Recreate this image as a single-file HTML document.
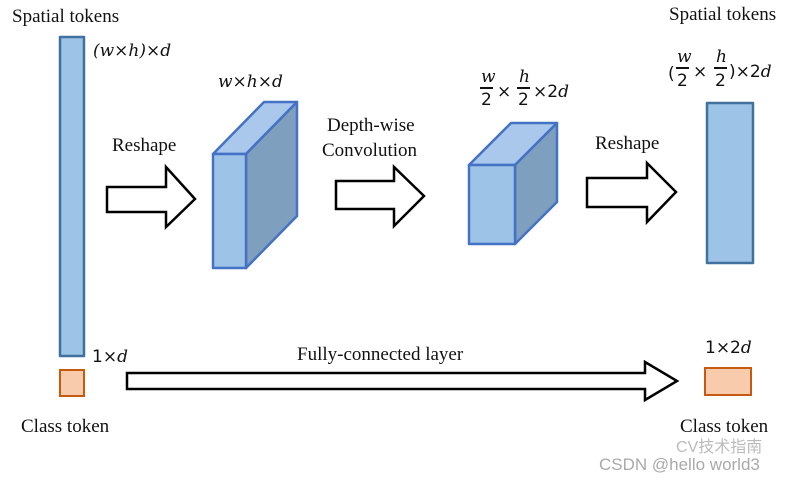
<!DOCTYPE html>
<html><head><meta charset="utf-8"><style>
html,body{margin:0;padding:0;background:#fff;}
svg{display:block;}
.t{font-family:"Liberation Serif",serif;font-size:19px;fill:#111;}
.m{font-family:"DejaVu Serif","Liberation Serif",serif;font-style:italic;font-size:17px;fill:#111;}
.n{font-family:"DejaVu Sans","Liberation Sans",sans-serif;font-size:17px;fill:#111;font-style:normal;}
</style></head><body>
<svg width="795" height="480" viewBox="0 0 795 480" xmlns="http://www.w3.org/2000/svg">
<g stroke="#4472c4" stroke-width="2.5" stroke-linejoin="round">
<rect x="60" y="37" width="24" height="319" fill="#9dc3e6" stroke="#41719c"/>
<rect x="707" y="103" width="46" height="160" fill="#9dc3e6" stroke="#41719c"/>
<polygon points="213,154 264,102 297,102 246,154" fill="#a9c8ec"/>
<polygon points="246,154 297,102 297,216 246,268" fill="#7f9fbf"/>
<rect x="213" y="154" width="33" height="114" fill="#9dc3e6"/>
<polygon points="469,165 511,123 557,123 515,165" fill="#a9c8ec"/>
<polygon points="515,165 557,123 557,202 515,244" fill="#7f9fbf"/>
<rect x="469" y="165" width="46" height="79" fill="#9dc3e6"/>
</g>
<rect x="60" y="370" width="24" height="26" fill="#f8cbad" stroke="#c55a11" stroke-width="2"/>
<rect x="705" y="368" width="46" height="27" fill="#f8cbad" stroke="#c55a11" stroke-width="2"/>
<g fill="#fff" stroke="#000" stroke-width="2.5" stroke-linejoin="miter">
<polygon points="107,187 166,187 166,167 195,199 166,227 166,212 107,212"/>
<polygon points="336,181 394,181 394,167 424,196 394,226 394,209 336,209"/>
<polygon points="587,178 647,178 647,163 676,192 647,222 647,207 587,207"/>
<polygon points="127,373 645,373 645,362 677,381 645,400 645,389 127,389"/>
</g>
<text class="t" x="12" y="22">Spatial tokens</text>
<text class="t" x="669" y="20">Spatial tokens</text>
<text class="t" x="112" y="151">Reshape</text>
<text class="t" x="595" y="149">Reshape</text>
<text class="t" x="327" y="131">Depth-wise</text>
<text class="t" x="322" y="156">Convolution</text>
<text class="t" x="297" y="360">Fully-connected layer</text>
<text class="t" x="21" y="432">Class token</text>
<text class="t" x="680" y="432">Class token</text>
<text class="m" x="93" y="56">(w×h)×d</text>
<text class="m" x="218" y="87">w×h×d</text>
<text class="m" x="92" y="362"><tspan class="n">1×</tspan>d</text>
<text class="m" x="705" y="353"><tspan class="n">1×2</tspan>d</text>
<text class="m" x="481" y="82">w</text><line x1="480" y1="88" x2="493" y2="88" stroke="#111" stroke-width="2"/><text class="n" x="481" y="105">2</text>
<text class="n" x="497" y="97">×</text>
<text class="m" x="519" y="82">h</text><line x1="517" y1="88" x2="530" y2="88" stroke="#111" stroke-width="2"/><text class="n" x="518" y="105">2</text>
<text class="m" x="533" y="97"><tspan class="n">×2</tspan>d</text>
<text class="n" x="668" y="79">(</text>
<text class="m" x="677" y="62">w</text><line x1="676" y1="68" x2="689" y2="68" stroke="#111" stroke-width="2"/><text class="n" x="677" y="86">2</text>
<text class="n" x="693" y="77">×</text>
<text class="m" x="716" y="62">h</text><line x1="714" y1="68" x2="727" y2="68" stroke="#111" stroke-width="2"/><text class="n" x="715" y="86">2</text>
<text class="m" x="729" y="77"><tspan class="n">)×2</tspan>d</text>
<text x="676" y="452" font-family="Liberation Sans,Noto Sans CJK SC,sans-serif" font-size="16" fill="#bbb">CV技术指南</text>
<text x="599" y="470" font-family="Liberation Sans,Noto Sans CJK SC,sans-serif" font-size="17" fill="#aaa">CSDN @hello world3</text>
</svg>
</body></html>
